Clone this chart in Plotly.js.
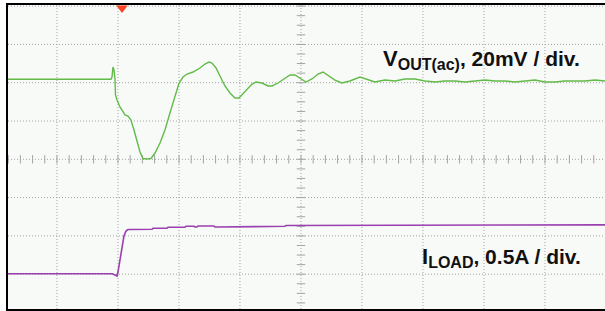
<!DOCTYPE html>
<html>
<head>
<meta charset="utf-8">
<script src="https://cdn.plot.ly/plotly-3.0.1.min.js"></script>
<style>html,body{margin:0;padding:0;background:#fff;}#chart{width:605px;height:311px;}</style>
</head>
<body>
<div id="chart"></div>
<script>
var voutT = [-4.803,-3.115,-3.098,-3.082,-3.066,-3.049,-3.041,-3.016,-2.967,-2.918,-2.885,-2.836,-2.787,-2.738,-2.689,-2.639,-2.590,-2.525,-2.459,-2.393,-2.311,-2.230,-2.148,-2.066,-2.000,-1.934,-1.869,-1.770,-1.656,-1.574,-1.508,-1.459,-1.393,-1.328,-1.246,-1.164,-1.082,-1.016,-0.951,-0.885,-0.803,-0.738,-0.639,-0.541,-0.475,-0.377,-0.279,-0.180,-0.098,-0.016,0.082,0.180,0.279,0.361,0.443,0.557,0.672,0.803,0.967,1.098,1.213,1.377,1.541,1.705,1.869,2.033,2.197,2.361,2.525,2.689,2.852,3.016,3.180,3.344,3.508,3.672,3.836,4.000,4.164,4.328,4.492,4.656,4.820,4.984];
var voutV = [2.089,2.089,2.149,2.410,2.332,2.097,1.679,1.548,1.366,1.235,1.157,1.131,1.026,0.765,0.452,0.191,0.021,0.008,0.021,0.164,0.426,0.765,1.209,1.653,1.984,2.149,2.227,2.279,2.384,2.488,2.540,2.514,2.384,2.175,1.914,1.731,1.601,1.601,1.705,1.809,1.966,2.018,1.992,1.914,1.914,1.992,2.097,2.201,2.201,2.123,2.018,2.097,2.227,2.279,2.201,2.070,1.992,2.044,2.149,2.070,2.018,2.070,2.044,2.097,2.097,2.044,2.018,2.044,2.044,2.018,2.044,2.070,2.044,2.044,2.018,2.044,2.070,2.018,2.018,2.044,2.044,2.044,2.070,2.044];
var iloadT = [-4.803,-3.098,-3.049,-3.016,-3.000,-2.984,-2.967,-2.951,-2.934,-2.918,-2.902,-2.869,-2.836,-2.443,-2.426,-2.197,-2.180,-1.902,-1.885,-1.754,-1.738,-1.705,-1.689,-1.426,-1.410,-1.377,-1.000,-0.984,-0.262,-0.246,0.639,1.623,2.607,3.590,4.574,4.984];
var iloadV = [-2.990,-2.990,-3.021,-3.047,-2.943,-2.786,-2.577,-2.420,-2.264,-2.107,-2.003,-1.872,-1.833,-1.828,-1.802,-1.802,-1.775,-1.775,-1.749,-1.749,-1.768,-1.768,-1.741,-1.741,-1.768,-1.768,-1.768,-1.749,-1.749,-1.728,-1.726,-1.722,-1.718,-1.715,-1.713,-1.713];
var triggerT = [-2.934];
var labels = ['<b><span style="font-size:22px">V</span><sub><span style="font-size:16px">OUT(ac)</span></sub>, 20mV / div.</b>',
              '<b><span style="font-size:22px">I</span><sub><span style="font-size:16px">LOAD</span></sub>, 0.5A / div.</b>'];

var xr = [-4.803, 4.984], yr = [-3.909, 4.029];
// graticule: grid lines and centre-line ticks
var gx = [], gy = [];
for (var a = -4; a <= 4; a++) { gx.push(a, a, null); gy.push(yr[0], yr[1], null); }
for (var b = -3; b <= 4; b++) { gx.push(xr[0], xr[1], null); gy.push(b, b, null); }
var hx = [], hy = [], vx = [], vy = [];
for (var i = -25; i <= 25; i++) { var t = i * 0.2; if (t >= xr[0] && t <= xr[1]) { hx.push(t); hy.push(0); } }
for (var j = -16; j <= 16; j++) { var v = j * 0.25; if (v >= yr[0] && v <= yr[1]) { vx.push(0); vy.push(v); } }

var gridCol = '#a3a3a3';
var traces = [
  {x: gx, y: gy, type: 'scatter', mode: 'lines', hoverinfo: 'skip',
   line: {color: gridCol, width: 1, dash: '1px,2px'}},
  {x: hx, y: hy, type: 'scatter', mode: 'markers', hoverinfo: 'skip',
   marker: {symbol: 'line-ns-open', size: 6, color: gridCol, line: {color: gridCol, width: 1}}},
  {x: vx, y: vy, type: 'scatter', mode: 'markers', hoverinfo: 'skip',
   marker: {symbol: 'line-ew-open', size: 6, color: gridCol, line: {color: gridCol, width: 1}}},
  {x: voutT, y: voutV, type: 'scatter', mode: 'lines', name: 'VOUT',
   line: {color: '#62bb48', width: 1.4}},
  {x: iloadT, y: iloadV, type: 'scatter', mode: 'lines', name: 'ILOAD',
   line: {color: '#9a3fb0', width: 1.6}},
  {x: triggerT, y: [3.95], type: 'scatter', mode: 'markers', cliponaxis: false, hoverinfo: 'skip',
   marker: {symbol: 'triangle-down', size: 10, color: '#ff4422'}}
];

var layout = {
  width: 605, height: 311,
  margin: {l: 8, r: 0, t: 5, b: 2},
  paper_bgcolor: '#ffffff', plot_bgcolor: '#f8faf7',
  showlegend: false,
  font: {family: 'Liberation Sans, Arial, sans-serif', size: 21, color: '#111'},
  xaxis: {range: xr, showticklabels: false, ticks: '', showgrid: false,
          zeroline: false, showline: true, linecolor: '#000', linewidth: 2, mirror: true, fixedrange: true},
  yaxis: {range: yr, showticklabels: false, ticks: '', showgrid: false,
          zeroline: false, showline: true, linecolor: '#000', linewidth: 2, mirror: false, fixedrange: true},
  annotations: [
    {text: labels[0], xref: 'paper', yref: 'paper', x: 0.625, y: 0.82, xanchor: 'left', yanchor: 'middle', showarrow: false, font: {size: 21, color: '#111'}},
    {text: labels[1], xref: 'paper', yref: 'paper', x: 0.69, y: 0.17, xanchor: 'left', yanchor: 'middle', showarrow: false, font: {size: 21, color: '#111'}}
  ]
};
Plotly.newPlot('chart', traces, layout, {displayModeBar: false, staticPlot: true});
</script>
</body>
</html>
